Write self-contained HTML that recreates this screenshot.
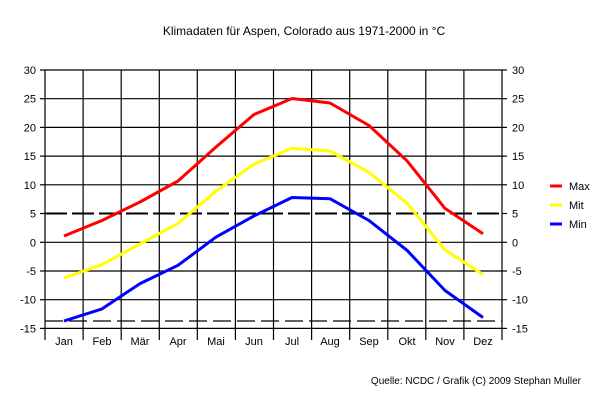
<!DOCTYPE html>
<html><head><meta charset="utf-8"><style>html,body{margin:0;padding:0;background:#fff}</style></head><body>
<svg width="609" height="409" xmlns="http://www.w3.org/2000/svg" font-family="Liberation Sans, sans-serif" font-size="11">
<rect width="609" height="409" fill="#fff"/>
<text x="304" y="35" text-anchor="middle" font-size="12">Klimadaten für Aspen, Colorado aus 1971-2000 in °C</text>
<g stroke="#000" stroke-width="1.2" fill="none">
<line x1="45" y1="70" x2="502" y2="70"/><line x1="45" y1="98.7" x2="502" y2="98.7"/><line x1="45" y1="127.4" x2="502" y2="127.4"/><line x1="45" y1="156.1" x2="502" y2="156.1"/><line x1="45" y1="184.8" x2="502" y2="184.8"/><line x1="45" y1="242.3" x2="502" y2="242.3"/><line x1="45" y1="271" x2="502" y2="271"/><line x1="45" y1="299.7" x2="502" y2="299.7"/><line x1="45" y1="328.4" x2="502" y2="328.4"/>
<line x1="40" y1="70" x2="45" y2="70"/><line x1="40" y1="98.7" x2="45" y2="98.7"/><line x1="40" y1="127.4" x2="45" y2="127.4"/><line x1="40" y1="156.1" x2="45" y2="156.1"/><line x1="40" y1="184.8" x2="45" y2="184.8"/><line x1="40" y1="213.5" x2="45" y2="213.5"/><line x1="40" y1="242.3" x2="45" y2="242.3"/><line x1="40" y1="271" x2="45" y2="271"/><line x1="40" y1="299.7" x2="45" y2="299.7"/><line x1="40" y1="328.4" x2="45" y2="328.4"/>
<line x1="502" y1="70" x2="507" y2="70"/><line x1="502" y1="98.7" x2="507" y2="98.7"/><line x1="502" y1="127.4" x2="507" y2="127.4"/><line x1="502" y1="156.1" x2="507" y2="156.1"/><line x1="502" y1="184.8" x2="507" y2="184.8"/><line x1="502" y1="213.5" x2="507" y2="213.5"/><line x1="502" y1="242.3" x2="507" y2="242.3"/><line x1="502" y1="271" x2="507" y2="271"/><line x1="502" y1="299.7" x2="507" y2="299.7"/><line x1="502" y1="328.4" x2="507" y2="328.4"/>
<line x1="45" y1="70" x2="45" y2="340"/><line x1="83.1" y1="70" x2="83.1" y2="340"/><line x1="121.2" y1="70" x2="121.2" y2="340"/><line x1="159.3" y1="70" x2="159.3" y2="340"/><line x1="197.3" y1="70" x2="197.3" y2="340"/><line x1="235.4" y1="70" x2="235.4" y2="340"/><line x1="273.5" y1="70" x2="273.5" y2="340"/><line x1="311.6" y1="70" x2="311.6" y2="340"/><line x1="349.7" y1="70" x2="349.7" y2="340"/><line x1="387.8" y1="70" x2="387.8" y2="340"/><line x1="425.8" y1="70" x2="425.8" y2="340"/><line x1="463.9" y1="70" x2="463.9" y2="340"/><line x1="502" y1="70" x2="502" y2="340"/>
<line x1="45" y1="213.5" x2="502" y2="213.5" stroke-dasharray="22,5" stroke-width="2"/>
<line x1="45" y1="321" x2="502" y2="321" stroke-dasharray="18,6"/>
</g>
<g fill="none" stroke-width="3" stroke-linejoin="round">
<polyline stroke="#f00" points="64,236 102,220.5 140,202 178,181 216,147 254,114.5 292,98.5 330,103 369,125.5 407,160.8 445,208.4 483,233.7"/>
<polyline stroke="#ff0" points="64,277.9 102,264.7 140,244 178,223.4 216,191.2 254,164.2 292,148.2 330,151 369,172.3 407,203.3 445,249.8 483,274.5"/>
<polyline stroke="#00f" points="64,321 102,308.9 140,283.6 178,265.3 216,237.1 254,215.9 292,197.5 330,198.7 369,220.5 407,250.3 445,290.5 483,317.5"/>
</g>
<g text-anchor="end">
<text x="36" y="74">30</text><text x="36" y="102.7">25</text><text x="36" y="131.4">20</text><text x="36" y="160.1">15</text><text x="36" y="188.8">10</text><text x="36" y="217.5">5</text><text x="36" y="246.3">0</text><text x="36" y="275">-5</text><text x="36" y="303.7">-10</text><text x="36" y="332.4">-15</text>
</g>
<g>
<text x="512" y="74">30</text><text x="512" y="102.7">25</text><text x="512" y="131.4">20</text><text x="512" y="160.1">15</text><text x="512" y="188.8">10</text><text x="512" y="217.5">5</text><text x="512" y="246.3">0</text><text x="512" y="275">-5</text><text x="512" y="303.7">-10</text><text x="512" y="332.4">-15</text>
</g>
<g text-anchor="middle">
<text x="64" y="345">Jan</text><text x="102" y="345">Feb</text><text x="140" y="345">Mär</text><text x="178" y="345">Apr</text><text x="216" y="345">Mai</text><text x="254" y="345">Jun</text><text x="292" y="345">Jul</text><text x="330" y="345">Aug</text><text x="369" y="345">Sep</text><text x="407" y="345">Okt</text><text x="445" y="345">Nov</text><text x="483" y="345">Dez</text>
</g>
<g stroke-width="3">
<line x1="550" y1="186" x2="562" y2="186" stroke="#f00"/>
<line x1="550" y1="205" x2="562" y2="205" stroke="#ff0"/>
<line x1="550" y1="224" x2="562" y2="224" stroke="#00f"/>
</g>
<text x="569" y="190">Max</text><text x="569" y="209">Mit</text><text x="569" y="228">Min</text>
<text x="581" y="384" text-anchor="end" font-size="10">Quelle: NCDC / Grafik (C) 2009 Stephan Muller</text>
</svg>
</body></html>
